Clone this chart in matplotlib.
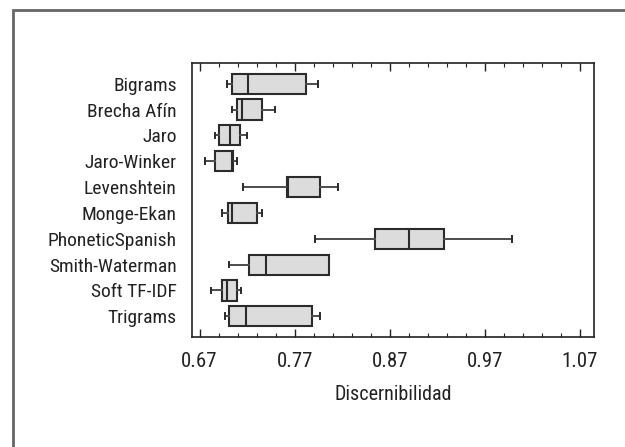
import matplotlib.pyplot as plt
from matplotlib.patches import Rectangle
from matplotlib.ticker import MultipleLocator

plt.rcParams['font.family'] = ['Roboto Condensed', 'Archivo Narrow', 'DejaVu Sans']

labels = ['Bigrams', 'Brecha Afín', 'Jaro', 'Jaro-Winker', 'Levenshtein',
          'Monge-Ekan', 'PhoneticSpanish', 'Smith-Waterman', 'Soft TF-IDF', 'Trigrams']
whislo = [0.699, 0.704, 0.686, 0.676, 0.716, 0.694, 0.791, 0.701, 0.682, 0.697]
q1 = [0.704, 0.709, 0.691, 0.686, 0.762, 0.700, 0.854, 0.722, 0.694, 0.701]
med = [0.721, 0.715, 0.702, 0.704, 0.763, 0.704, 0.890, 0.740, 0.699, 0.719]
q3 = [0.782, 0.736, 0.713, 0.705, 0.797, 0.730, 0.927, 0.806, 0.709, 0.788]
whishi = [0.795, 0.749, 0.720, 0.709, 0.816, 0.736, 0.999, 0.806, 0.714, 0.797]

stats = []
for i in range(len(labels)):
    stats.append({'label': labels[i], 'whislo': whislo[i], 'q1': q1[i], 'med': med[i],
                  'q3': q3[i], 'whishi': whishi[i], 'fliers': []})

fig = plt.figure(figsize=(6.25, 4.47), dpi=100)
# outer frame, only left/top edges visible
fig.patches.append(Rectangle((13 / 625, -0.1), 1.2, 1 - 10 / 447 + 0.1, transform=fig.transFigure,
                             fill=False, edgecolor='#666666', linewidth=2))

ax = fig.add_axes([192 / 625, 1 - 337 / 447, 402 / 625, 274 / 447])
ax.bxp(stats, positions=range(len(labels)), vert=False, widths=0.78, capwidths=0.22,
       patch_artist=True, showfliers=False,
       boxprops=dict(facecolor='#dcdcdd', edgecolor='#2b2b2b', linewidth=1.5),
       medianprops=dict(color='#2b2b2b', linewidth=1.5),
       whiskerprops=dict(color='#4d4d4d', linewidth=1.4),
       capprops=dict(color='#2b2b2b', linewidth=1.4))

ax.set_ylim(9.8, -0.8)
ax.set_xlim(0.6621, 1.0848)
ax.xaxis.set_minor_locator(MultipleLocator(0.02, offset=0.01))
ax.set_xticks([0.67, 0.77, 0.87, 0.97, 1.07])
ax.set_xticklabels(['0.67', '0.77', '0.87', '0.97', '1.07'])
ax.tick_params(axis='x', which='major', direction='in', top=True, length=6, width=1,
               labelsize=15, pad=11, color='#222222', labelcolor='#222222')
ax.tick_params(axis='x', which='minor', direction='in', top=True, length=3, width=0.8,
               color='#222222')
ax.set_yticks(range(len(labels)))
ax.set_yticklabels(labels)
ax.tick_params(axis='y', length=0, pad=11, labelsize=14, labelcolor='#222222')
for s in ax.spines.values():
    s.set_linewidth(1.2)
    s.set_color('#222222')
ax.set_xlabel('Discernibilidad', fontsize=14.5, labelpad=10, color='#222222')

fig.savefig('out.png', dpi=100)
